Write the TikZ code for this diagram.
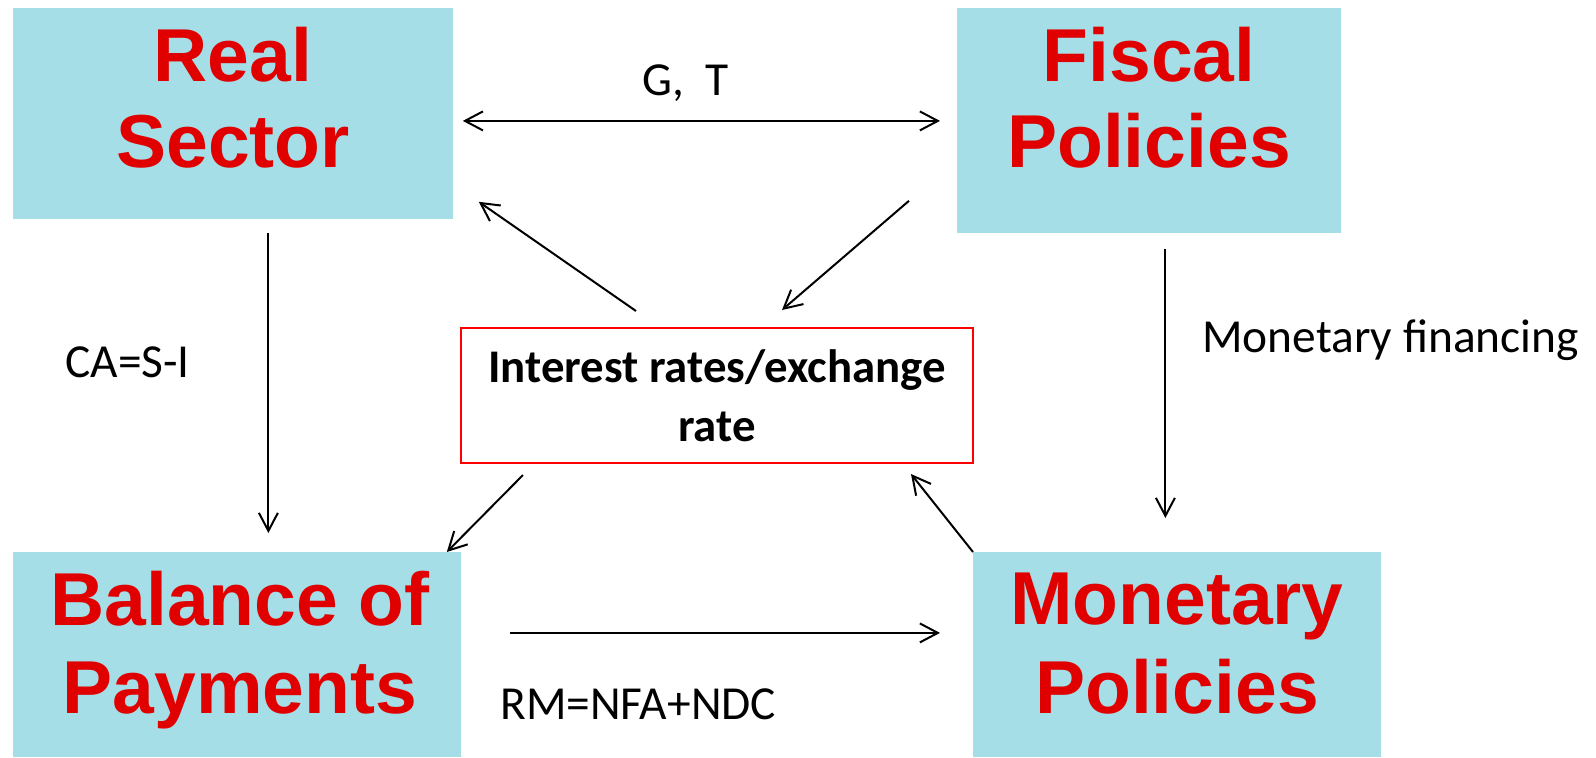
\documentclass[tikz,border=0pt]{standalone}
\usepackage{fontspec}
\setmainfont{Carlito}
\newfontfamily\arialf{Liberation Sans}
\usetikzlibrary{arrows.meta}
\definecolor{boxblue}{HTML}{A6DEE8}
\definecolor{titlered}{HTML}{E00000}
\definecolor{framered}{HTML}{FF0000}
\begin{document}
\begin{tikzpicture}[x=0.5pt,y=-0.5pt,
  sector/.style={fill=boxblue, draw=none, inner sep=0pt, anchor=north west},
  title/.style={font=\arialf\bfseries\fontsize{37.5}{43}\selectfont, text=titlered, anchor=base, inner sep=0pt},
  lbl/.style={font=\fontsize{23.7}{28}\selectfont, anchor=base west, inner sep=0pt},
  intbox/.style={draw=framered, line width=1pt, fill=white, align=center, inner sep=0pt,
    font=\bfseries\fontsize{23.4}{29.3}\selectfont},
  arr/.style={line width=1pt, -{Straight Barb[length=9pt,width=9.5pt]}},
  darr/.style={line width=1pt, {Straight Barb[length=9pt,width=9.5pt]}-{Straight Barb[length=9pt,width=9.5pt]}}]
\useasboundingbox (0,0) rectangle (1596,757);
% boxes
\node[sector, minimum width=220pt, minimum height=105.5pt] (real) at (13,8) {};
\node[sector, minimum width=192pt, minimum height=112.5pt] (fiscal) at (957,8) {};
\node[sector, minimum width=224pt, minimum height=102.5pt] (bop) at (13,552) {};
\node[sector, minimum width=204pt, minimum height=102.5pt] (mon) at (973,552) {};
\node[intbox, minimum width=256pt, minimum height=67.5pt] (int) at (717,395.5) {Interest rates/exchange\\rate};
% titles
\node[title] (realA) at (233,81) {Real};
\node[title] (realB) at (233,167) {Sector};
\node[title] (fisA) at (1149,81) {Fiscal};
\node[title] (fisB) at (1149,167) {Policies};
\node[title] (bopA) at (240,625) {Balance of};
\node[title] (bopB) at (240,713) {Payments};
\node[title] (monA) at (1177,624) {Monetary};
\node[title] (monB) at (1177,713) {Policies};
% labels
\node[lbl] (gt) at (642,95) {G,\ \ T};
\node[lbl] (ca) at (65,377) {CA=S-I};
\node[lbl] (mf) at (1202,352) {Monetary financing};
\node[lbl] (rm) at (500,719) {RM=NFA+NDC};
% connectors
\draw[darr, shorten <=4.5pt, shorten >=8.5pt] (real.east |- fiscal.west) -- (fiscal.west);
\draw[arr, shorten <=6.5pt, shorten >=9.5pt] ([xshift=17.5pt]real.south) -- ([xshift=17.5pt]real.south |- bop.north);
\draw[arr, shorten <=7.5pt, shorten >=17pt] ([xshift=8pt]fiscal.south) -- ([xshift=8pt]fiscal.south |- mon.north);
\draw[arr, shorten <=24pt, shorten >=16.5pt] ([yshift=11pt]bop.east) -- ([yshift=11pt]mon.west);
\draw[arr] ([shift={(88pt,8pt)}]int.north west) -- ([shift={(12.5pt,9pt)}]real.south east);
\draw[arr] ([shift={(-24pt,16.5pt)}]fiscal.south west) -- ([shift={(32.5pt,8.5pt)}]int.north);
\draw[arr] ([shift={(31.5pt,-5.5pt)}]int.south west) -- ([shift={(-7.5pt,0pt)}]bop.north east);
\draw[arr] (mon.north west) -- ([shift={(-31.5pt,-5pt)}]int.south east);
\end{tikzpicture}
\end{document}
